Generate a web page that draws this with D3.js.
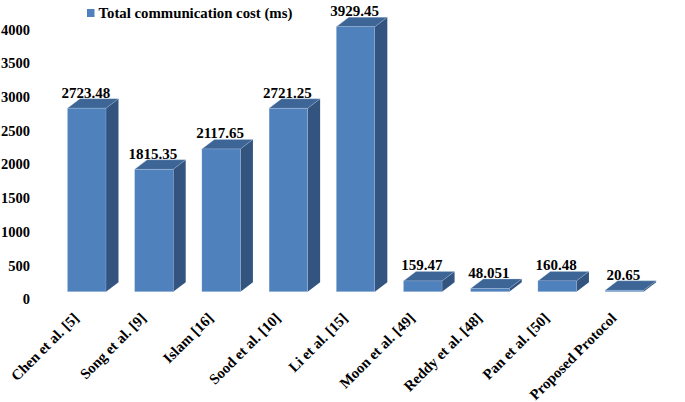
<!DOCTYPE html>
<html>
<head>
<meta charset="utf-8">
<script src="https://cdn.jsdelivr.net/npm/d3@7"></script>
<style>
html, body { margin: 0; padding: 0; background: #fff; }
text { font-family: "Liberation Serif", serif; font-weight: bold; fill: #000; }
</style>
</head>
<body>
<div id="chart"></div>
<script>
var categories = ["Chen et al. [5]", "Song et al. [9]", "Islam [16]", "Sood et al. [10]", "Li et al. [15]",
    "Moon et al. [49]", "Reddy et al. [48]", "Pan et al. [50]", "Proposed Protocol"];
var costs = [2723.48, 1815.35, 2117.65, 2721.25, 3929.45, 159.47, 48.051, 160.48, 20.65];
var costLabels = ["2723.48", "1815.35", "2117.65", "2721.25", "3929.45", "159.47", "48.051", "160.48", "20.65"];
var yTicks = [0, 500, 1000, 1500, 2000, 2500, 3000, 3500, 4000];
var legendLabel = "Total communication cost (ms)";

var w = 685;
var h = 402;
var depthX = 12.5;
var depthY = 9.5;

var svg = d3.select("#chart").append("svg")
    .attr("width", w)
    .attr("height", h)
    .style("display", "block");

var x = d3.scaleBand()
    .domain(categories)
    .range([53.15, 658])
    .paddingInner(0.427)
    .paddingOuter(0.2135);

// bars stand on the front floor edge, value 4000 is 269.6px above it
var y = d3.scaleLinear()
    .domain([0, 4000])
    .range([291.7, 22.1]);

// the tick labels sit on the lower floor line, a bit under the bars
var yAxis = d3.axisLeft(y).tickValues(yTicks).tickSize(0).tickPadding(0).tickFormat(d3.format("d"));
var yGroup = svg.append("g")
    .attr("transform", "translate(30,7.4)")
    .call(yAxis);
yGroup.select(".domain").remove();
yGroup.selectAll("text")
    .style("font-size", "14.5px")
    .style("font-family", "Liberation Serif")
    .style("font-weight", "bold");

var xAxis = d3.axisBottom(x).tickSize(0).tickPadding(0);
var xGroup = svg.append("g")
    .attr("transform", "translate(0,319)")
    .call(xAxis);
xGroup.select(".domain").remove();
xGroup.selectAll("text")
    .style("font-size", "14.8px")
    .style("font-family", "Liberation Serif")
    .style("font-weight", "bold")
    .attr("text-anchor", "end")
    .attr("dx", 0)
    .attr("dy", 0)
    .attr("y", 0)
    .attr("transform", "translate(-7,0) rotate(-45)");

var bars = svg.selectAll(".bar")
    .data(costs)
    .enter()
    .append("g")
    .attr("class", "bar");

function poly(points) {
    return d3.line()(points) + "Z";
}

// side face
bars.append("path")
    .attr("fill", "#32547f")
    .attr("d", function(d, i) {
        var r = x(categories[i]) + x.bandwidth();
        return poly([[r, y(d)], [r + depthX, y(d) - depthY], [r + depthX, y(0) - depthY], [r, y(0)]]);
    });

// top face
bars.append("path")
    .attr("fill", "#3d6595")
    .attr("stroke", "#b9cde5")
    .attr("stroke-width", 0.3)
    .attr("d", function(d, i) {
        var l = x(categories[i]);
        var r = l + x.bandwidth();
        return poly([[l, y(d)], [l + depthX, y(d) - depthY], [r + depthX, y(d) - depthY], [r, y(d)]]);
    });

// front face
bars.append("rect")
    .attr("x", function(d, i) { return x(categories[i]); })
    .attr("y", function(d) { return y(d); })
    .attr("width", x.bandwidth())
    .attr("height", function(d) { return y(0) - y(d); })
    .attr("fill", "#4f81bd")
    .attr("stroke", "#b9cde5")
    .attr("stroke-width", 0.3);

bars.append("text")
    .attr("x", function(d, i) { return x(categories[i]) + x.bandwidth() / 2 - 1; })
    .attr("y", function(d) { return y(d) - 10.5; })
    .attr("text-anchor", "middle")
    .style("font-size", "15px")
    .text(function(d, i) { return costLabels[i]; });

svg.append("rect")
    .attr("x", 87)
    .attr("y", 9)
    .attr("width", 7.5)
    .attr("height", 8)
    .attr("fill", "#4f81bd");

svg.append("text")
    .attr("x", 98.5)
    .attr("y", 17.8)
    .style("font-size", "14.8px")
    .text(legendLabel);
</script>
</body>
</html>
